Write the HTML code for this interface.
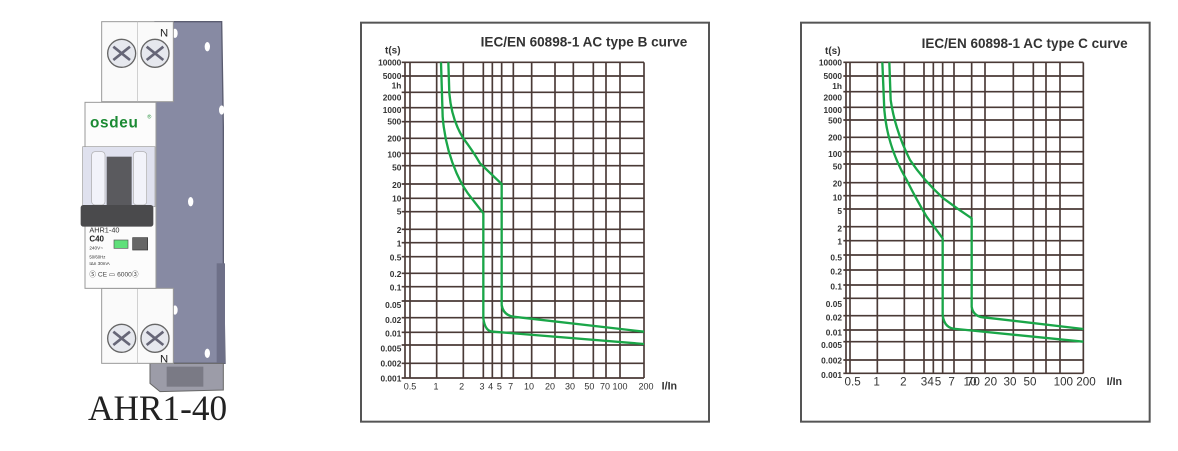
<!DOCTYPE html>
<html><head><meta charset="utf-8"><style>
html,body{margin:0;padding:0;background:#fff;width:1178px;height:451px;overflow:hidden;position:relative;font-family:"Liberation Sans",sans-serif}
svg{position:absolute;display:block}
.lbl{position:absolute;left:88px;top:388px;font-family:"Liberation Serif",serif;font-size:36px;color:#222;line-height:40px;transform:scaleX(0.98);transform-origin:left}
</style></head><body>

<!-- Breaker -->
<svg style="left:60px;top:10px" width="190" height="430" viewBox="0 0 570 1290">
  <polygon points="285,35 485,35 490,350 490,760 495,1060 285,1060" fill="#878aa3" stroke="#5a5c70" stroke-width="4"/>
  <rect x="470" y="760" width="25" height="300" fill="#6e7088"/>
  <polygon points="270,1060 490,1060 490,1140 300,1145 270,1120" fill="#9c9ca8" stroke="#666" stroke-width="3"/>
  <rect x="320" y="1070" width="110" height="60" fill="#7a7a85"/>
  <ellipse cx="345" cy="70" rx="8" ry="14" fill="#fff"/><ellipse cx="442" cy="110" rx="8" ry="14" fill="#fff"/>
  <ellipse cx="485" cy="300" rx="8" ry="14" fill="#fff"/><ellipse cx="392" cy="575" rx="8" ry="14" fill="#fff"/>
  <ellipse cx="345" cy="900" rx="8" ry="14" fill="#fff"/><ellipse cx="442" cy="1030" rx="8" ry="14" fill="#fff"/>
  <rect x="125" y="35" width="215" height="240" fill="#fafafa" stroke="#999" stroke-width="3"/>
  <line x1="232" y1="35" x2="232" y2="275" stroke="#bbb" stroke-width="2"/>
  <circle cx="185" cy="130" r="42" fill="#e6e8ee" stroke="#666" stroke-width="4"/>
  <circle cx="285" cy="130" r="42" fill="#e6e8ee" stroke="#666" stroke-width="4"/>
  <path d="M160 110 L210 150 M210 110 L160 150 M260 110 L310 150 M310 110 L260 150" stroke="#667" stroke-width="8"/>
  <text x="300" y="80" font-size="34" fill="#222">N</text>
  <rect x="125" y="835" width="215" height="225" fill="#fafafa" stroke="#999" stroke-width="3"/>
  <line x1="232" y1="835" x2="232" y2="1060" stroke="#bbb" stroke-width="2"/>
  <circle cx="185" cy="985" r="42" fill="#e6e8ee" stroke="#666" stroke-width="4"/>
  <circle cx="285" cy="985" r="42" fill="#e6e8ee" stroke="#666" stroke-width="4"/>
  <path d="M160 965 L210 1005 M210 965 L160 1005 M260 965 L310 1005 M310 965 L260 1005" stroke="#667" stroke-width="8"/>
  <text x="300" y="1058" font-size="34" fill="#222">N</text>
  <rect x="75" y="277" width="213" height="558" fill="#fcfcfc" stroke="#999" stroke-width="3"/>
  <text x="90" y="352" font-size="46" font-weight="bold" fill="#1b8a33" letter-spacing="2">osdeu</text>
  <text x="262" y="325" font-size="16" fill="#1b8a33">®</text>
  <rect x="68" y="410" width="217" height="180" fill="#dfe1ee" stroke="#999" stroke-width="2"/>
  <rect x="140" y="440" width="75" height="150" fill="#5a5a5e"/>
  <rect x="95" y="425" width="40" height="160" rx="10" fill="#f2f3fa" stroke="#aaa" stroke-width="2"/>
  <rect x="220" y="425" width="40" height="160" rx="10" fill="#f2f3fa" stroke="#aaa" stroke-width="2"/>
  <rect x="62" y="585" width="218" height="65" rx="8" fill="#4a4a4c"/>
  <text x="88" y="667" font-size="22" fill="#333">AHR1-40</text>
  <text x="88" y="695" font-size="24" font-weight="bold" fill="#222">C40</text>
  <text x="88" y="718" font-size="14" fill="#333">240V~</text>
  <text x="88" y="745" font-size="13" fill="#333">50/60Hz</text>
  <text x="88" y="765" font-size="14" fill="#333">IΔn 30mA</text>
  <rect x="162" y="690" width="42" height="25" fill="#5fe07a" stroke="#555" stroke-width="2"/>
  <rect x="218" y="683" width="45" height="37" fill="#666" stroke="#333" stroke-width="2"/>
  <text x="88" y="800" font-size="20" fill="#444">Ⓢ CE ▭ 6000③</text>
</svg>
<div class="lbl">AHR1-40</div>

<!-- Chart B -->
<svg style="left:360px;top:20px" width="350" height="405" viewBox="0 0 1050 1215">
  <rect x="3" y="8" width="1044" height="1197" fill="#fff" stroke="#555" stroke-width="6"/>
  <g stroke="#4a3a36" stroke-width="5">
    <line x1="135" y1="127" x2="135" y2="1074"/><line x1="150" y1="127" x2="150" y2="1074"/>
    <line x1="230" y1="127" x2="230" y2="1074"/><line x1="310" y1="127" x2="310" y2="1074"/>
    <line x1="370" y1="127" x2="370" y2="1074"/><line x1="397" y1="127" x2="397" y2="1074"/>
    <line x1="425" y1="127" x2="425" y2="1074"/><line x1="460" y1="127" x2="460" y2="1074"/>
    <line x1="515" y1="127" x2="515" y2="1074"/><line x1="585" y1="127" x2="585" y2="1074"/>
    <line x1="640" y1="127" x2="640" y2="1074"/><line x1="700" y1="127" x2="700" y2="1074"/>
    <line x1="738" y1="127" x2="738" y2="1074"/><line x1="780" y1="127" x2="780" y2="1074"/>
    <line x1="852" y1="127" x2="852" y2="1074"/>
    <line x1="125" y1="127" x2="852" y2="127"/><line x1="125" y1="168" x2="852" y2="168"/>
    <line x1="125" y1="217" x2="852" y2="217"/><line x1="125" y1="263" x2="852" y2="263"/>
    <line x1="125" y1="305" x2="852" y2="305"/><line x1="125" y1="355" x2="852" y2="355"/>
    <line x1="125" y1="400" x2="852" y2="400"/><line x1="125" y1="437" x2="852" y2="437"/>
    <line x1="125" y1="492" x2="852" y2="492"/><line x1="125" y1="535" x2="852" y2="535"/>
    <line x1="125" y1="575" x2="852" y2="575"/><line x1="125" y1="628" x2="852" y2="628"/>
    <line x1="125" y1="668" x2="852" y2="668"/><line x1="125" y1="710" x2="852" y2="710"/>
    <line x1="125" y1="760" x2="852" y2="760"/><line x1="125" y1="800" x2="852" y2="800"/>
    <line x1="125" y1="843" x2="852" y2="843"/><line x1="125" y1="893" x2="852" y2="893"/>
    <line x1="125" y1="937" x2="852" y2="937"/><line x1="125" y1="975" x2="852" y2="975"/>
    <line x1="125" y1="1030" x2="852" y2="1030"/><line x1="125" y1="1074" x2="852" y2="1074"/>
  </g>
  <g fill="none" stroke="#1aa648" stroke-width="7">
    <path d="M265 127 L268 220 Q275 300 310 355 Q340 395 360 430 L425 492 L425 855 Q430 885 460 890 L852 935"/>
    <path d="M243 127 L248 290 Q255 380 290 460 Q310 505 335 535 L370 580 L370 895 Q375 935 400 935 L852 972"/>
  </g>
  <text x="362" y="80" font-size="42" font-weight="bold" fill="#333" textLength="620" lengthAdjust="spacingAndGlyphs">IEC/EN 60898-1 AC type B curve</text>
  <text x="75" y="100" font-size="30" font-weight="bold" fill="#333">t(s)</text>
  <g font-size="25" font-weight="bold" fill="#333" text-anchor="end">
    <text x="124" y="136">10000</text><text x="124" y="177">5000</text><text x="124" y="206">1h</text>
    <text x="124" y="241">2000</text><text x="124" y="279">1000</text><text x="124" y="314">500</text>
    <text x="124" y="364">200</text><text x="124" y="412">100</text><text x="124" y="451">50</text>
    <text x="124" y="504">20</text><text x="124" y="544">10</text><text x="124" y="584">5</text>
    <text x="124" y="639">2</text><text x="124" y="679">1</text><text x="124" y="721">0.5</text>
    <text x="124" y="771">0.2</text><text x="124" y="812">0.1</text><text x="124" y="864">0.05</text>
    <text x="124" y="909">0.02</text><text x="124" y="949">0.01</text><text x="124" y="994">0.005</text>
    <text x="124" y="1039">0.002</text><text x="124" y="1084">0.001</text>
  </g>
  <g font-size="27" fill="#333" text-anchor="middle">
    <text x="150" y="1108">0.5</text><text x="228" y="1108">1</text><text x="305" y="1108">2</text>
    <text x="366" y="1108">3</text><text x="392" y="1108">4</text><text x="418" y="1108">5</text>
    <text x="452" y="1108">7</text><text x="507" y="1108">10</text><text x="570" y="1108">20</text>
    <text x="630" y="1108">30</text><text x="688" y="1108">50</text><text x="735" y="1108">70</text>
    <text x="780" y="1108">100</text><text x="858" y="1108">200</text>
  </g>
  <text x="905" y="1108" font-size="32" font-weight="bold" fill="#333">I/In</text>
</svg>

<!-- Chart C -->
<svg style="left:800px;top:20px" width="355" height="405" viewBox="0 0 1065 1215">
  <rect x="3" y="8" width="1046" height="1197" fill="#fff" stroke="#555" stroke-width="6"/>
  <g stroke="#4a3a36" stroke-width="5">
    <line x1="138" y1="127" x2="138" y2="1060"/><line x1="150" y1="127" x2="150" y2="1060"/>
    <line x1="232" y1="127" x2="232" y2="1060"/><line x1="313" y1="127" x2="313" y2="1060"/>
    <line x1="372" y1="127" x2="372" y2="1060"/><line x1="400" y1="127" x2="400" y2="1060"/>
    <line x1="428" y1="127" x2="428" y2="1060"/><line x1="462" y1="127" x2="462" y2="1060"/>
    <line x1="515" y1="127" x2="515" y2="1060"/><line x1="555" y1="127" x2="555" y2="1060"/>
    <line x1="640" y1="127" x2="640" y2="1060"/><line x1="700" y1="127" x2="700" y2="1060"/>
    <line x1="738" y1="127" x2="738" y2="1060"/><line x1="780" y1="127" x2="780" y2="1060"/>
    <line x1="850" y1="127" x2="850" y2="1060"/>
    <line x1="130" y1="127" x2="850" y2="127"/><line x1="130" y1="168" x2="850" y2="168"/>
    <line x1="130" y1="215" x2="850" y2="215"/><line x1="130" y1="262" x2="850" y2="262"/>
    <line x1="130" y1="300" x2="850" y2="300"/><line x1="130" y1="352" x2="850" y2="352"/>
    <line x1="130" y1="395" x2="850" y2="395"/><line x1="130" y1="432" x2="850" y2="432"/>
    <line x1="130" y1="488" x2="850" y2="488"/><line x1="130" y1="527" x2="850" y2="527"/>
    <line x1="130" y1="567" x2="850" y2="567"/><line x1="130" y1="620" x2="850" y2="620"/>
    <line x1="130" y1="662" x2="850" y2="662"/><line x1="130" y1="705" x2="850" y2="705"/>
    <line x1="130" y1="750" x2="850" y2="750"/><line x1="130" y1="795" x2="850" y2="795"/>
    <line x1="130" y1="835" x2="850" y2="835"/><line x1="130" y1="887" x2="850" y2="887"/>
    <line x1="130" y1="930" x2="850" y2="930"/><line x1="130" y1="965" x2="850" y2="965"/>
    <line x1="130" y1="1020" x2="850" y2="1020"/><line x1="130" y1="1060" x2="850" y2="1060"/>
  </g>
  <g fill="none" stroke="#1aa648" stroke-width="7">
    <path d="M268 127 L272 240 Q285 330 330 420 Q370 480 430 535 Q470 565 515 595 L515 860 Q520 893 560 893 L850 927"/>
    <path d="M247 127 L253 270 Q262 380 320 480 Q350 540 380 590 L428 655 L428 885 Q433 927 470 927 L850 965"/>
  </g>
  <text x="365" y="84" font-size="42" font-weight="bold" fill="#333" textLength="618" lengthAdjust="spacingAndGlyphs">IEC/EN 60898-1 AC type C curve</text>
  <text x="75" y="102" font-size="30" font-weight="bold" fill="#333">t(s)</text>
  <g font-size="25" font-weight="bold" fill="#333" text-anchor="end">
    <text x="126" y="136">10000</text><text x="126" y="177">5000</text><text x="126" y="207">1h</text>
    <text x="126" y="241">2000</text><text x="126" y="279">1000</text><text x="126" y="311">500</text>
    <text x="126" y="361">200</text><text x="126" y="411">100</text><text x="126" y="449">50</text>
    <text x="126" y="499">20</text><text x="126" y="541">10</text><text x="126" y="582">5</text>
    <text x="126" y="634">2</text><text x="126" y="674">1</text><text x="126" y="721">0.5</text>
    <text x="126" y="764">0.2</text><text x="126" y="809">0.1</text><text x="126" y="861">0.05</text>
    <text x="126" y="902">0.02</text><text x="126" y="946">0.01</text><text x="126" y="984">0.005</text>
    <text x="126" y="1031">0.002</text><text x="126" y="1074">0.001</text>
  </g>
  <g font-size="35" fill="#333" text-anchor="middle">
    <text x="158" y="1097">0.5</text><text x="230" y="1097">1</text><text x="310" y="1097">2</text>
    <text x="372" y="1097">3</text><text x="392" y="1097">4</text><text x="414" y="1097">5</text>
    <text x="455" y="1097">7</text><text x="510" y="1097">10</text><text x="520" y="1097">70</text>
    <text x="572" y="1097">20</text><text x="630" y="1097">30</text><text x="690" y="1097">50</text>
    <text x="790" y="1097">100</text><text x="858" y="1097">200</text>
  </g>
  <text x="920" y="1095" font-size="32" font-weight="bold" fill="#333">I/In</text>
</svg>
</body></html>
